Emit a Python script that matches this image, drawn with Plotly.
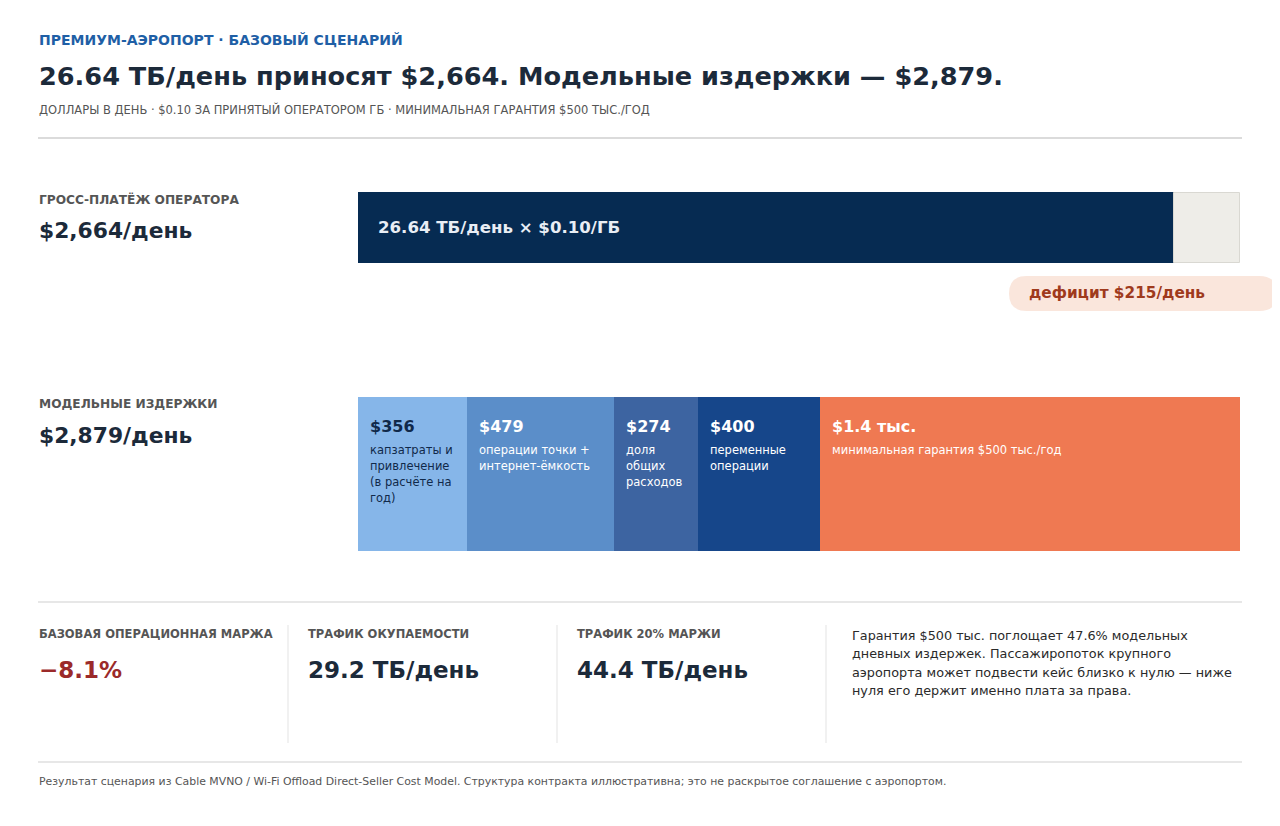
import plotly.graph_objects as go

# --- data -------------------------------------------------------------
tb_per_day = 26.64
price_per_gb = 0.10
gross_payment = 2664          # $/day
model_cost = 2879             # $/day
deficit = 215                 # $/day

cost_values = [356, 479, 274, 400, 1370]
cost_value_labels = ["$356", "$479", "$274", "$400", "$1.4 тыс."]
cost_descriptions = [
    ["капзатраты и", "привлечение", "(в расчёте на", "год)"],
    ["операции точки +", "интернет-ёмкость"],
    ["доля", "общих", "расходов"],
    ["переменные", "операции"],
    ["минимальная гарантия $500 тыс./год"],
]
cost_colors = ["#86b6e9", "#5b8ec9", "#3d64a1", "#16468a", "#ef7952"]
cost_text_colors = ["#10294a", "#ffffff", "#ffffff", "#ffffff", "#ffffff"]

kpi_labels = ["БАЗОВАЯ ОПЕРАЦИОННАЯ МАРЖА", "ТРАФИК ОКУПАЕМОСТИ", "ТРАФИК 20% МАРЖИ"]
kpi_values = ["−8.1%", "29.2 ТБ/день", "44.4 ТБ/день"]
kpi_colors = ["#9b2a2a", "#1c2a3a", "#1c2a3a"]

note_lines = [
    "Гарантия $500 тыс. поглощает 47.6% модельных",
    "дневных издержек. Пассажиропоток крупного",
    "аэропорта может подвести кейс близко к нулю — ниже",
    "нуля его держит именно плата за права.",
]

OFF = 8  # page body margin
W, H = 1280 - OFF, 826 - 2 * OFF
FONT = "DejaVu Sans"
DARK = "#1c2a3a"
GREY = "#555555"


def px(x):
    # screen pixel -> paper fraction
    return (x - OFF) / W


def py(y):
    # screen pixel -> y axis units (axis runs top-down in pixels)
    return y - OFF


def ppy(y):
    # screen pixel -> paper fraction (vertical)
    return 1 - (y - OFF) / H


fig = go.Figure()

# gross payment bar + remainder up to model cost
fig.add_trace(go.Bar(
    orientation="h", y=[py(227.5)], x=[gross_payment], base=[0], width=[71],
    marker=dict(color="#062b52", line=dict(width=0)), hoverinfo="skip",
))
fig.add_trace(go.Bar(
    orientation="h", y=[py(227.5)], x=[model_cost - gross_payment], base=[gross_payment],
    width=[70], marker=dict(color="#eeede8", line=dict(color="#d9d8d2", width=1)),
    hoverinfo="skip",
))

# cost stack
bases = []
acc = 0
for v in cost_values:
    bases.append(acc)
    acc += v
for i, v in enumerate(cost_values):
    fig.add_trace(go.Bar(
        orientation="h", y=[py(474)], x=[v], base=[bases[i]], width=[154],
        marker=dict(color=cost_colors[i], line=dict(width=0)), hoverinfo="skip",
    ))
    fig.add_annotation(
        x=bases[i], y=py(426), xref="x", yref="y", xanchor="left", yanchor="middle",
        xshift=10, text="<b>%s</b>" % cost_value_labels[i], showarrow=False,
        font=dict(family=FONT, size=16, color=cost_text_colors[i]),
    )
    for j, line in enumerate(cost_descriptions[i]):
        fig.add_annotation(
            x=bases[i], y=py(450 + 16 * j), xref="x", yref="y", xanchor="left",
            yanchor="middle", xshift=10, text=line, showarrow=False,
            font=dict(family=FONT, size=11.5, color=cost_text_colors[i]),
        )

# gross bar label
fig.add_annotation(
    x=0, y=py(227), xref="x", yref="y", xanchor="left", yanchor="middle", xshift=18,
    text="<b>%.2f ТБ/день × $%.2f/ГБ</b>" % (tb_per_day, price_per_gb),
    showarrow=False, font=dict(family=FONT, size=16.6, color="#e9eef5"),
)

# deficit pill (all in paper coords so nothing clips it)
x0, x1, y0, y1 = px(1009), px(1277), ppy(276), ppy(311)
rx, ry = 17.5 / W, 17.5 / H
fig.add_shape(
    type="path", xref="paper", yref="paper",
    path=(f"M {x0 + rx} {y0} L {x1 - rx} {y0} Q {x1} {y0} {x1} {y0 - ry} "
          f"Q {x1} {y1} {x1 - rx} {y1} L {x0 + rx} {y1} Q {x0} {y1} {x0} {y1 + ry} "
          f"Q {x0} {y0} {x0 + rx} {y0} Z"),
    fillcolor="#fae6dc", line=dict(width=0), layer="above",
)
fig.add_annotation(
    x=px(1027), y=py(293), xref="paper", yref="y", xanchor="left", yanchor="middle",
    text="<b>дефицит $%d/день</b>" % deficit, showarrow=False,
    font=dict(family=FONT, size=15.3, color="#9f3a1c"),
)

# header
fig.add_annotation(x=px(37), y=py(40), xref="paper", yref="y", xanchor="left", yanchor="middle",
                   text="<b>ПРЕМИУМ-АЭРОПОРТ · БАЗОВЫЙ СЦЕНАРИЙ</b>", showarrow=False,
                   font=dict(family=FONT, size=14, color="#1f5fa6"))
fig.add_annotation(x=px(37), y=py(76), xref="paper", yref="y", xanchor="left", yanchor="middle",
                   text="<b>%.2f ТБ/день приносят $%s. Модельные издержки — $%s.</b>"
                        % (tb_per_day, f"{gross_payment:,}", f"{model_cost:,}"),
                   showarrow=False, font=dict(family=FONT, size=25.6, color=DARK))
fig.add_annotation(x=px(37), y=py(109), xref="paper", yref="y", xanchor="left", yanchor="middle",
                   text="ДОЛЛАРЫ В ДЕНЬ · $0.10 ЗА ПРИНЯТЫЙ ОПЕРАТОРОМ ГБ · МИНИМАЛЬНАЯ ГАРАНТИЯ $500 ТЫС./ГОД",
                   showarrow=False, font=dict(family=FONT, size=11.5, color=GREY))

# row labels
row_labels = [("ГРОСС-ПЛАТЁЖ ОПЕРАТОРА", f"${gross_payment:,}/день", 199, 230),
              ("МОДЕЛЬНЫЕ ИЗДЕРЖКИ", f"${model_cost:,}/день", 404, 435)]
for lab, val, ly, vy in row_labels:
    fig.add_annotation(x=px(37), y=py(ly), xref="paper", yref="y", xanchor="left", yanchor="middle",
                       text="<b>%s</b>" % lab, showarrow=False,
                       font=dict(family=FONT, size=12.2, color=GREY))
    fig.add_annotation(x=px(37), y=py(vy), xref="paper", yref="y", xanchor="left", yanchor="middle",
                       text="<b>%s</b>" % val, showarrow=False,
                       font=dict(family=FONT, size=21.8, color=DARK))

# KPI strip
kpi_x = [37, 306, 575]
for i in range(3):
    fig.add_annotation(x=px(kpi_x[i]), y=py(634), xref="paper", yref="y", xanchor="left",
                       yanchor="middle", text="<b>%s</b>" % kpi_labels[i], showarrow=False,
                       font=dict(family=FONT, size=11.5, color=GREY))
    fig.add_annotation(x=px(kpi_x[i]), y=py(670), xref="paper", yref="y", xanchor="left",
                       yanchor="middle", text="<b>%s</b>" % kpi_values[i], showarrow=False,
                       font=dict(family=FONT, size=23, color=kpi_colors[i]))
for j, line in enumerate(note_lines):
    fig.add_annotation(x=px(850), y=py(635 + j * 18.5), xref="paper", yref="y", xanchor="left",
                       yanchor="middle", text=line, showarrow=False,
                       font=dict(family=FONT, size=12.8, color="#2a2a2a"))

fig.add_annotation(x=px(37), y=py(781), xref="paper", yref="y", xanchor="left", yanchor="middle",
                   text="Результат сценария из Cable MVNO / Wi-Fi Offload Direct-Seller Cost Model. "
                        "Структура контракта иллюстративна; это не раскрытое соглашение с аэропортом.",
                   showarrow=False, font=dict(family=FONT, size=10.9, color=GREY))

# rules
for yy in (138, 602, 762):
    fig.add_shape(type="line", xref="paper", yref="y", x0=px(38), x1=px(1242),
                  y0=py(yy), y1=py(yy),
                  line=dict(color="#cfcfcf", width=1.5 if yy == 138 else 1.2))
for xx in (288, 557, 826):
    fig.add_shape(type="line", xref="paper", yref="y", x0=px(xx), x1=px(xx),
                  y0=py(625), y1=py(743), line=dict(color="#e3e3e3", width=1))

fig.update_layout(
    width=W, height=H, margin=dict(l=0, r=0, t=0, b=0),
    paper_bgcolor="white", plot_bgcolor="white",
    barmode="overlay", showlegend=False, bargap=0,
    font=dict(family=FONT),
    xaxis=dict(domain=[px(358), px(1240)], range=[0, model_cost], visible=False, fixedrange=True),
    yaxis=dict(domain=[0, 1], range=[H, 0], visible=False, fixedrange=True),
)

fig.write_html("out.html", config={"displayModeBar": False})
